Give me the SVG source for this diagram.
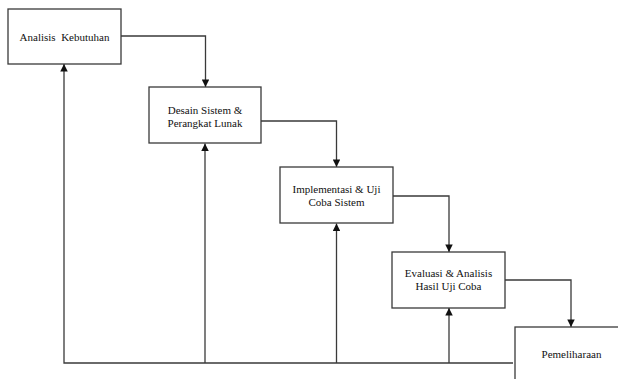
<svg xmlns="http://www.w3.org/2000/svg" width="618" height="379" viewBox="0 0 618 379">
<defs>
<style>
.box{fill:#fff;stroke:#3a3a3a;stroke-width:1.3}
.ln{fill:none;stroke:#3a3a3a;stroke-width:1.3}
.t{font-family:"Liberation Serif","Times New Roman",serif;font-size:11px;fill:#111;text-anchor:middle;white-space:pre}
</style>
<marker id="ah" viewBox="0 0 10 10" refX="10" refY="5" markerWidth="8" markerHeight="7.5" markerUnits="userSpaceOnUse" orient="auto">
<path d="M0,0 L10,5 L0,10 z" fill="#111"/>
</marker>
</defs>
<rect width="618" height="379" fill="#fff"/>
<g id="connectors">
<path class="ln" d="M121,36 H205.5 V87" marker-end="url(#ah)"/>
<path class="ln" d="M261,121 H336.5 V167" marker-end="url(#ah)"/>
<path class="ln" d="M393,196 H449 V252" marker-end="url(#ah)"/>
<path class="ln" d="M505,280 H571 V327" marker-end="url(#ah)"/>
<path class="ln" d="M513,363 H64 V64" marker-end="url(#ah)"/>
<path class="ln" d="M205,363 V143.5" marker-end="url(#ah)"/>
<path class="ln" d="M336.5,363 V223.5" marker-end="url(#ah)"/>
<path class="ln" d="M449,363 V308" marker-end="url(#ah)"/>
</g>
<g id="node-analisis">
<rect class="box" x="8" y="9" width="113" height="55"/>
<text class="t" x="64.5" y="40.5" xml:space="preserve">Analisis  Kebutuhan</text>
</g>
<g id="node-desain">
<rect class="box" x="149" y="87" width="112" height="56"/>
<text class="t" x="205" y="113.5">Desain Sistem &amp;</text>
<text class="t" x="205" y="126.5">Perangkat Lunak</text>
</g>
<g id="node-implementasi">
<rect class="box" x="280" y="167" width="113" height="56"/>
<text class="t" x="336.5" y="193">Implementasi &amp; Uji</text>
<text class="t" x="336.5" y="206">Coba Sistem</text>
</g>
<g id="node-evaluasi">
<rect class="box" x="392" y="252" width="113" height="56"/>
<text class="t" x="448.5" y="277">Evaluasi &amp; Analisis</text>
<text class="t" x="448.5" y="290">Hasil Uji Coba</text>
</g>
<g id="node-pemeliharaan">
<rect class="box" x="515" y="327" width="113" height="60"/>
<text class="t" x="571.5" y="358">Pemeliharaan</text>
</g>
</svg>
